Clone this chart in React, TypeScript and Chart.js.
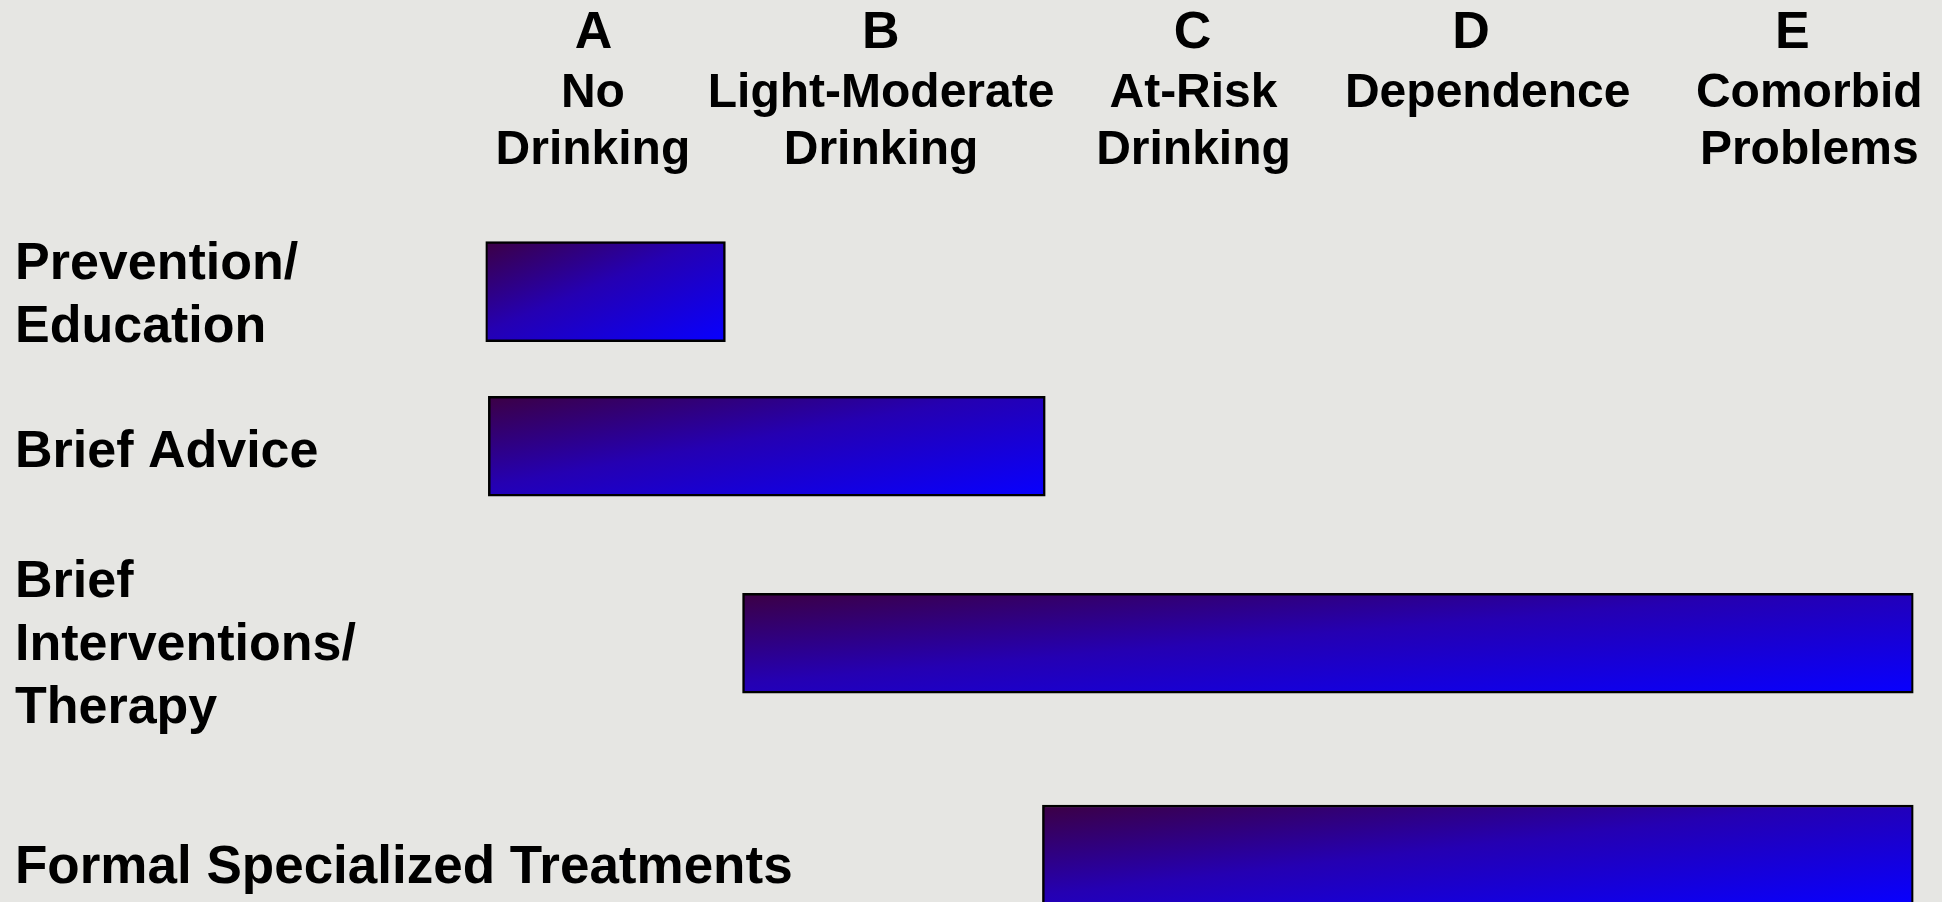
import React, { useEffect, useRef } from "react";
import { Chart, registerables } from "chart.js";

Chart.register(...registerables);

// ---- data ----
const stageLetters = ["A", "B", "C", "D", "E"];
const stageNames: string[][] = [
  ["No", "Drinking"],
  ["Light-Moderate", "Drinking"],
  ["At-Risk", "Drinking"],
  ["Dependence"],
  ["Comorbid", "Problems"],
];
const rowLabels: string[][] = [
  ["Prevention/", "Education"],
  ["Brief Advice"],
  ["Brief", "Interventions/", "Therapy"],
  ["Formal Specialized Treatments"],
];
// extent of each intervention along the drinking-stage continuum (stage units 0..5)
const barStart = [0, 0.01, 0.9, 1.95];
const barEnd = [0.84, 1.96, 5, 5];

// ---- layout (scale units) ----
const LETTER_AT = [0.378, 1.384, 2.476, 3.451, 4.576];
const NAME_AT = [0.376, 1.385, 2.479, 3.509, 4.635];
const ROW_AT = [15.47, 36.88, 64.16, 93.49];
const ROW_LABEL_AT = [16.06, 37.75, 64.44, 95.3];

const FONT = "'Liberation Sans', Arial, Helvetica, sans-serif";
const BAR_THICKNESS = 100;
const Y_AXIS_WIDTH = 470.5;

export default function App() {
  const ref = useRef<HTMLCanvasElement>(null);

  useEffect(() => {
    const canvas = ref.current;
    if (!canvas) return;

    const gradientFor = (ctx: any) => {
      const chart = ctx.chart;
      const i = ctx.dataIndex;
      const xs = chart.scales?.x;
      const ys = chart.scales?.y;
      if (!chart.chartArea || !xs || !ys || i === undefined) return "#2000b0";
      const x0 = xs.getPixelForValue(barStart[i]);
      const x1 = xs.getPixelForValue(barEnd[i]);
      const yc = ys.getPixelForValue(ROW_AT[i]);
      const w = x1 - x0;
      const h = BAR_THICKNESS;
      const top = yc - h / 2;
      const k = (2 * w * h) / (h * h + w * w);
      const g = chart.ctx.createLinearGradient(x0, top, x0 + k * h, top + k * w);
      g.addColorStop(0, "#3c0044");
      g.addColorStop(0.45, "#2500b2");
      g.addColorStop(1, "#0800ff");
      return g;
    };

    const chart = new Chart(canvas, {
      type: "bar",
      data: {
        datasets: [
          {
            data: rowLabels.map((_, i) => ({ x: [barStart[i], barEnd[i]], y: ROW_AT[i] })) as any,
            backgroundColor: gradientFor as any,
            borderColor: "#000000",
            borderWidth: 2.5,
            borderSkipped: false,
            barThickness: BAR_THICKNESS,
            xAxisID: "x",
            yAxisID: "y",
          },
        ],
      },
      options: {
        animation: false,
        responsive: false,
        indexAxis: "y",
        layout: { padding: { left: 15, right: 28.5, top: 0, bottom: 0 } },
        plugins: {
          legend: { display: false },
          tooltip: { enabled: false },
          title: { display: false },
        },
        scales: {
          x: {
            type: "linear",
            position: "top",
            weight: 0,
            min: 0,
            max: 5,
            offset: false,
            grid: { display: false, drawTicks: false },
            border: { display: false },
            ticks: {
              autoSkip: false,
              maxRotation: 0,
              minRotation: 0,
              padding: 0,
              crossAlign: "far",
              color: "#000000",
              font: { family: FONT, size: 48, weight: "bold", lineHeight: 1.2 },
              callback: (_v: any, i: number) => stageNames[i],
            },
            afterBuildTicks: (s: any) => {
              s.ticks = NAME_AT.map((v) => ({ value: v }));
            },
            afterFit: (s: any) => {
              s.height = 115.3;
              s.paddingLeft = 0;
              s.paddingRight = 0;
            },
          },
          x2: {
            type: "linear",
            position: "top",
            weight: 1,
            min: 0,
            max: 5,
            offset: false,
            grid: { display: false, drawTicks: false },
            border: { display: false },
            ticks: {
              autoSkip: false,
              maxRotation: 0,
              minRotation: 0,
              padding: 0,
              crossAlign: "far",
              color: "#000000",
              font: { family: FONT, size: 52, weight: "bold", lineHeight: 1.2 },
              callback: (_v: any, i: number) => stageLetters[i],
            },
            afterBuildTicks: (s: any) => {
              s.ticks = LETTER_AT.map((v) => ({ value: v }));
            },
            afterFit: (s: any) => {
              s.height = 64.7;
              s.paddingLeft = 0;
              s.paddingRight = 0;
            },
          },
          y: {
            type: "linear",
            position: "left",
            reverse: true,
            offset: false,
            min: 0,
            max: 100,
            grid: { display: false, drawTicks: false },
            border: { display: false },
            ticks: {
              autoSkip: false,
              mirror: true,
              padding: -Y_AXIS_WIDTH,
              color: "#000000",
              font: (c: any) => ({
                family: FONT,
                size: c.index === 3 ? 53 : 52,
                weight: "bold",
                lineHeight: 1.21,
              }),
              callback: (_v: any, i: number) => rowLabels[i],
            },
            afterBuildTicks: (s: any) => {
              s.ticks = ROW_LABEL_AT.map((v) => ({ value: v }));
            },
            afterFit: (s: any) => {
              s.width = Y_AXIS_WIDTH;
              s.paddingTop = 0;
              s.paddingBottom = 0;
            },
          },
        },
      } as any,
    });

    return () => {
      chart.destroy();
    };
  }, []);

  return (
    <div
      style={{
        position: "absolute",
        left: 0,
        top: 0,
        width: 1942,
        height: 902,
        overflow: "hidden",
        background: "#e6e6e3",
      }}
    >
      <canvas ref={ref} width={1942} height={902} style={{ display: "block" }} />
    </div>
  );
}
